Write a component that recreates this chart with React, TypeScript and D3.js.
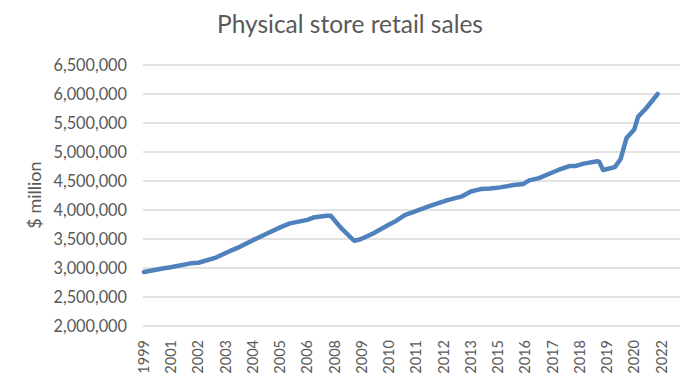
import React from "react";
import * as d3 from "d3";

const title = "Physical store retail sales";
const yAxisTitle = "$ million";

// Monthly category axis: Dec 1999 onward, 276 categories
const startYear = 1999;
const startMonth = 12;
const categoryCount = 276;
const tickEvery = 14;

const tickLabels = ["1999","2001","2002","2003","2004","2005","2006","2008","2009","2010","2011","2012","2013","2015","2016","2017","2018","2019","2020","2022"];

const yTicks = [2000000,2500000,3000000,3500000,4000000,4500000,5000000,5500000,6000000,6500000];

const months = ["1999-12","2000-11","2001-01","2001-12","2002-04","2003-01","2003-08","2004-01","2004-08","2005-03","2005-10","2006-03","2006-12","2007-03","2007-10","2007-12","2008-05","2008-12","2009-03","2009-10","2010-06","2010-09","2011-02","2011-07","2012-03","2012-12","2013-07","2013-12","2014-05","2014-10","2015-03","2015-10","2016-03","2016-06","2016-11","2017-04","2017-09","2018-03","2018-06","2018-10","2019-05","2019-06","2019-08","2020-02","2020-05","2020-08","2020-12","2021-02","2021-06","2021-12"];

const values = [2930000,3000000,3010000,3080000,3090000,3180000,3290000,3360000,3480000,3590000,3700000,3770000,3830000,3870000,3900000,3900000,3700000,3470000,3490000,3600000,3750000,3800000,3910000,3970000,4070000,4170000,4230000,4320000,4360000,4370000,4390000,4430000,4450000,4510000,4550000,4620000,4690000,4760000,4760000,4800000,4840000,4830000,4690000,4740000,4880000,5240000,5390000,5610000,5750000,6000000];

function monthIndex(m: string): number {
  const [y, mo] = m.split("-").map(Number);
  return (y - startYear) * 12 + (mo - startMonth);
}

const W = 695;
const H = 387;
const plot = { left: 143, right: 680, top: 65, bottom: 326 };
const font = "Lato, 'Open Sans', sans-serif";
const textColor = "#595959";

export default function App() {
  const x = d3.scaleBand<number>()
    .domain(d3.range(categoryCount))
    .range([plot.left, plot.right])
    .paddingInner(0)
    .paddingOuter(0);
  const bw = x.bandwidth();
  const cx = (i: number) => (x(i) as number) + bw / 2;
  const y = d3.scaleLinear().domain([2000000, 6500000]).range([plot.bottom, plot.top]);
  const fmt = d3.format(",");

  const pts: [number, number][] = months.map((m, i) => [cx(monthIndex(m)), y(values[i])]);
  const line = d3.line<[number, number]>().x(d => d[0]).y(d => d[1]).curve(d3.curveLinear);

  return (
    <svg width={W} height={H} style={{ display: "block", position: "absolute", left: 0, top: 0 }}>
      <rect x={0} y={0} width={W} height={H} fill="#ffffff" />
      <text x={350} y={33} textAnchor="middle" fontFamily={font} fontSize={24.5} fill={textColor}>{title}</text>
      {yTicks.map(t => (
        <g key={t}>
          <line x1={plot.left} x2={plot.right} y1={y(t)} y2={y(t)} stroke="#d9d9d9" strokeWidth={1.3} />
          <text x={127} y={y(t)} dy="0.35em" textAnchor="end" fontFamily={font} fontSize={16.3} fill={textColor}>{fmt(t)}</text>
        </g>
      ))}
      <text transform={`translate(41,195) rotate(-90)`} textAnchor="middle" fontFamily={font} fontSize={18} fill={textColor}>{yAxisTitle}</text>
      {tickLabels.map((lab, k) => (
        <text key={lab} transform={`translate(${cx(k * tickEvery) + 5},${340}) rotate(-90)`} textAnchor="end" fontFamily={font} fontSize={14.5} fill={textColor}>{lab}</text>
      ))}
      <path d={line(pts) || ""} fill="none" stroke="#4f81bd" strokeWidth={4.5} strokeLinejoin="round" strokeLinecap="round" />
    </svg>
  );
}
